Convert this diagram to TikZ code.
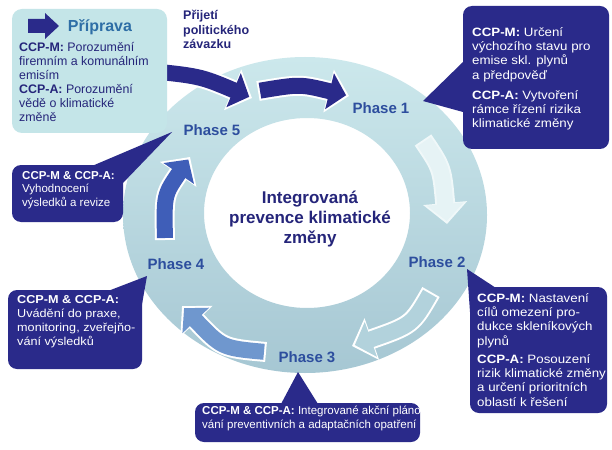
\documentclass[tikz,border=0pt]{standalone}
\usepackage{fontspec}
\setmainfont{Liberation Sans}
\newfontfamily\widefont{Liberation Sans}[FakeStretch=1.1]
\usetikzlibrary{arrows.meta}

\definecolor{navy}{HTML}{2A2A8A}
\definecolor{textnavy}{HTML}{25257A}
\definecolor{phaseblue}{HTML}{2D4E9E}
\definecolor{prepblue}{HTML}{2E6EA6}
\definecolor{prepbox}{HTML}{C4E5E8}
\definecolor{ringtop}{HTML}{CCE8EC}
\definecolor{ringbot}{HTML}{A6C7D3}
\definecolor{arrwhite}{HTML}{E6F3F5}
\definecolor{arrpale}{HTML}{B2D2DC}
\definecolor{arrmid}{HTML}{6F97CE}
\definecolor{arrblue}{HTML}{3F5EB8}

\tikzset{
  bubble/.style={fill=navy, rounded corners=9pt},
  bubbletext/.style={text=white, align=left, anchor=north west, inner sep=0pt,
    font=\fontsize{11.5}{13.5}\selectfont},
  bigtext/.style={font=\widefont\fontsize{12.1}{14.3}\selectfont},
  phase/.style={text=phaseblue, font=\fontsize{15}{18}\selectfont\bfseries, inner sep=0pt},
  ringarrow/.style={line width=16pt, shorten >=3pt, shorten <=2pt, -{Triangle[width=36pt,length=17pt]}},
  arrowrim/.style={line width=20pt, draw=white, -{Triangle[width=43pt,length=21pt]}},
}

\begin{document}
\begin{tikzpicture}[x=1pt,y=-1pt]
  \useasboundingbox (0,0) rectangle (612,449);
  \fill[white] (0,0) rectangle (612,449);

  % ring
  \shade[even odd rule, top color=ringtop, bottom color=ringbot]
    (305,215) ellipse [x radius=182, y radius=158]
    (307,213) ellipse [x radius=103, y radius=95];
  \node[font=\fontsize{17}{20}\selectfont\bfseries, text=textnavy, align=center] (core) at (310,219)
    {Integrovaná\\prevence klimatické\\změny};

  % arrow ends
  \coordinate (a0) at (140,70);
  \coordinate (a1) at (252,98);
  \coordinate (b0) at (258,91);
  \coordinate (b1) at (349,96);
  \coordinate (c0) at (423,140);
  \coordinate (c1) at (447,224);
  \coordinate (d0) at (431,292);
  \coordinate (d1) at (352,346);
  \coordinate (e0) at (266,352);
  \coordinate (e1) at (182,306);
  \coordinate (f0) at (165,240);
  \coordinate (f1) at (190,157);

  % arrows on the ring
  \draw[arrowrim] (a0) .. controls (200,76) .. (a1);
  \draw[ringarrow, navy] (a0) .. controls (200,76) .. (a1);
  \draw[arrowrim] (b0) .. controls (300,84) .. (b1);
  \draw[ringarrow, navy] (b0) .. controls (300,84) .. (b1);
  \draw[arrowrim, draw=arrwhite!60!white] (c0) .. controls (442,168) .. (c1);
  \draw[ringarrow, arrwhite] (c0) .. controls (442,168) .. (c1);
  \draw[arrowrim] (d0) .. controls (412,325) .. (d1);
  \draw[ringarrow, arrpale] (d0) .. controls (412,325) .. (d1);
  \draw[arrowrim] (e0) .. controls (222,348) .. (e1);
  \draw[ringarrow, arrmid] (e0) .. controls (222,348) .. (e1);
  \draw[arrowrim] (f0) .. controls (164,195) .. (f1);
  \draw[ringarrow, arrblue] (f0) .. controls (164,195) .. (f1);

  % phases
  \node[phase] (ph1) at (381,108) {Phase 1};
  \node[phase] (ph2) at (437,262) {Phase 2};
  \node[phase] (ph3) at (307,357) {Phase 3};
  \node[phase] (ph4) at (176,264) {Phase 4};
  \node[phase] (ph5) at (212,130) {Phase 5};

  % preparation box
  \fill[prepbox, rounded corners=10pt] (12,9) rectangle (167,133);
  \fill[navy] (28,19) -- (45,19) -- (45,13) -- (59,26) -- (45,39) -- (45,33) -- (28,33) -- cycle; % icon
  \node[font=\fontsize{16}{19}\selectfont\bfseries, text=prepblue] (prep) at (100,27) {Příprava};
  \node[bubbletext, text=textnavy, font=\fontsize{12.4}{14}\selectfont] (preptext) at (19,42)
    {\textbf{CCP-M:} Porozumění\\firemním a komunálním\\emisím\\
     \textbf{CCP-A:} Porozumění\\vědě o klimatické\\změně};
  \node[font=\fontsize{12.5}{14.5}\selectfont\bfseries, text=textnavy, align=left, anchor=north west, inner sep=0pt]
    (pledge) at (183,10) {Přijetí\\politického\\závazku};

  % callouts
  \coordinate (t1) at (423,101);
  \fill[bubble] (463,6) rectangle (609,149);
  \fill[navy] (463,62) -- (t1) -- (463,112) -- cycle;
  \node[bubbletext, bigtext] (m1) at (472,27)
    {\textbf{CCP-M:} Určení\\výchozího stavu pro\\emise skl. plynů\\a předpověď\\[6pt]
     \textbf{CCP-A:} Vytvoření\\rámce řízení rizika\\klimatické změny};

  \coordinate (t2) at (467,269);
  \fill[bubble] (470,287) rectangle (607,413);
  \fill[navy] (470,312) -- (t2) -- (496,288) -- cycle;
  \node[bubbletext, bigtext] (m2) at (477,293)
    {\textbf{CCP-M:} Nastavení\\cílů omezení pro-\\dukce skleníkových\\plynů\\[4pt]
     \textbf{CCP-A:} Posouzení\\rizik klimatické změny\\a určení prioritních\\oblastí k řešení};

  \coordinate (t3) at (298,372);
  \fill[bubble] (195,403) rectangle (420,442);
  \fill[navy] (281,404) -- (t3) -- (318,404) -- cycle;
  \node[bubbletext] (m3) at (202,406)
    {\textbf{CCP-M \& CCP-A:} Integrované akční pláno-\\vání preventivních a adaptačních opatření};

  \coordinate (t4) at (147,276);
  \fill[bubble] (8,290) rectangle (142,369);
  \fill[navy] (108,291) -- (t4) -- (141,310) -- cycle;
  \node[bubbletext, font=\widefont\fontsize{11.5}{14}\selectfont] (m4) at (17,295)
    {\textbf{CCP-M \& CCP-A:}\\Uvádění do praxe,\\monitoring, zveřejňo-\\vání výsledků};

  \coordinate (t5) at (172,132);
  \fill[bubble] (12,165) rectangle (123,222);
  \fill[navy] (92,166) -- (t5) -- (122,184) -- cycle;
  \node[bubbletext] (m5) at (22,171)
    {\textbf{CCP-M \& CCP-A:}\\Vyhodnocení\\výsledků a revize};
\end{tikzpicture}
\end{document}
